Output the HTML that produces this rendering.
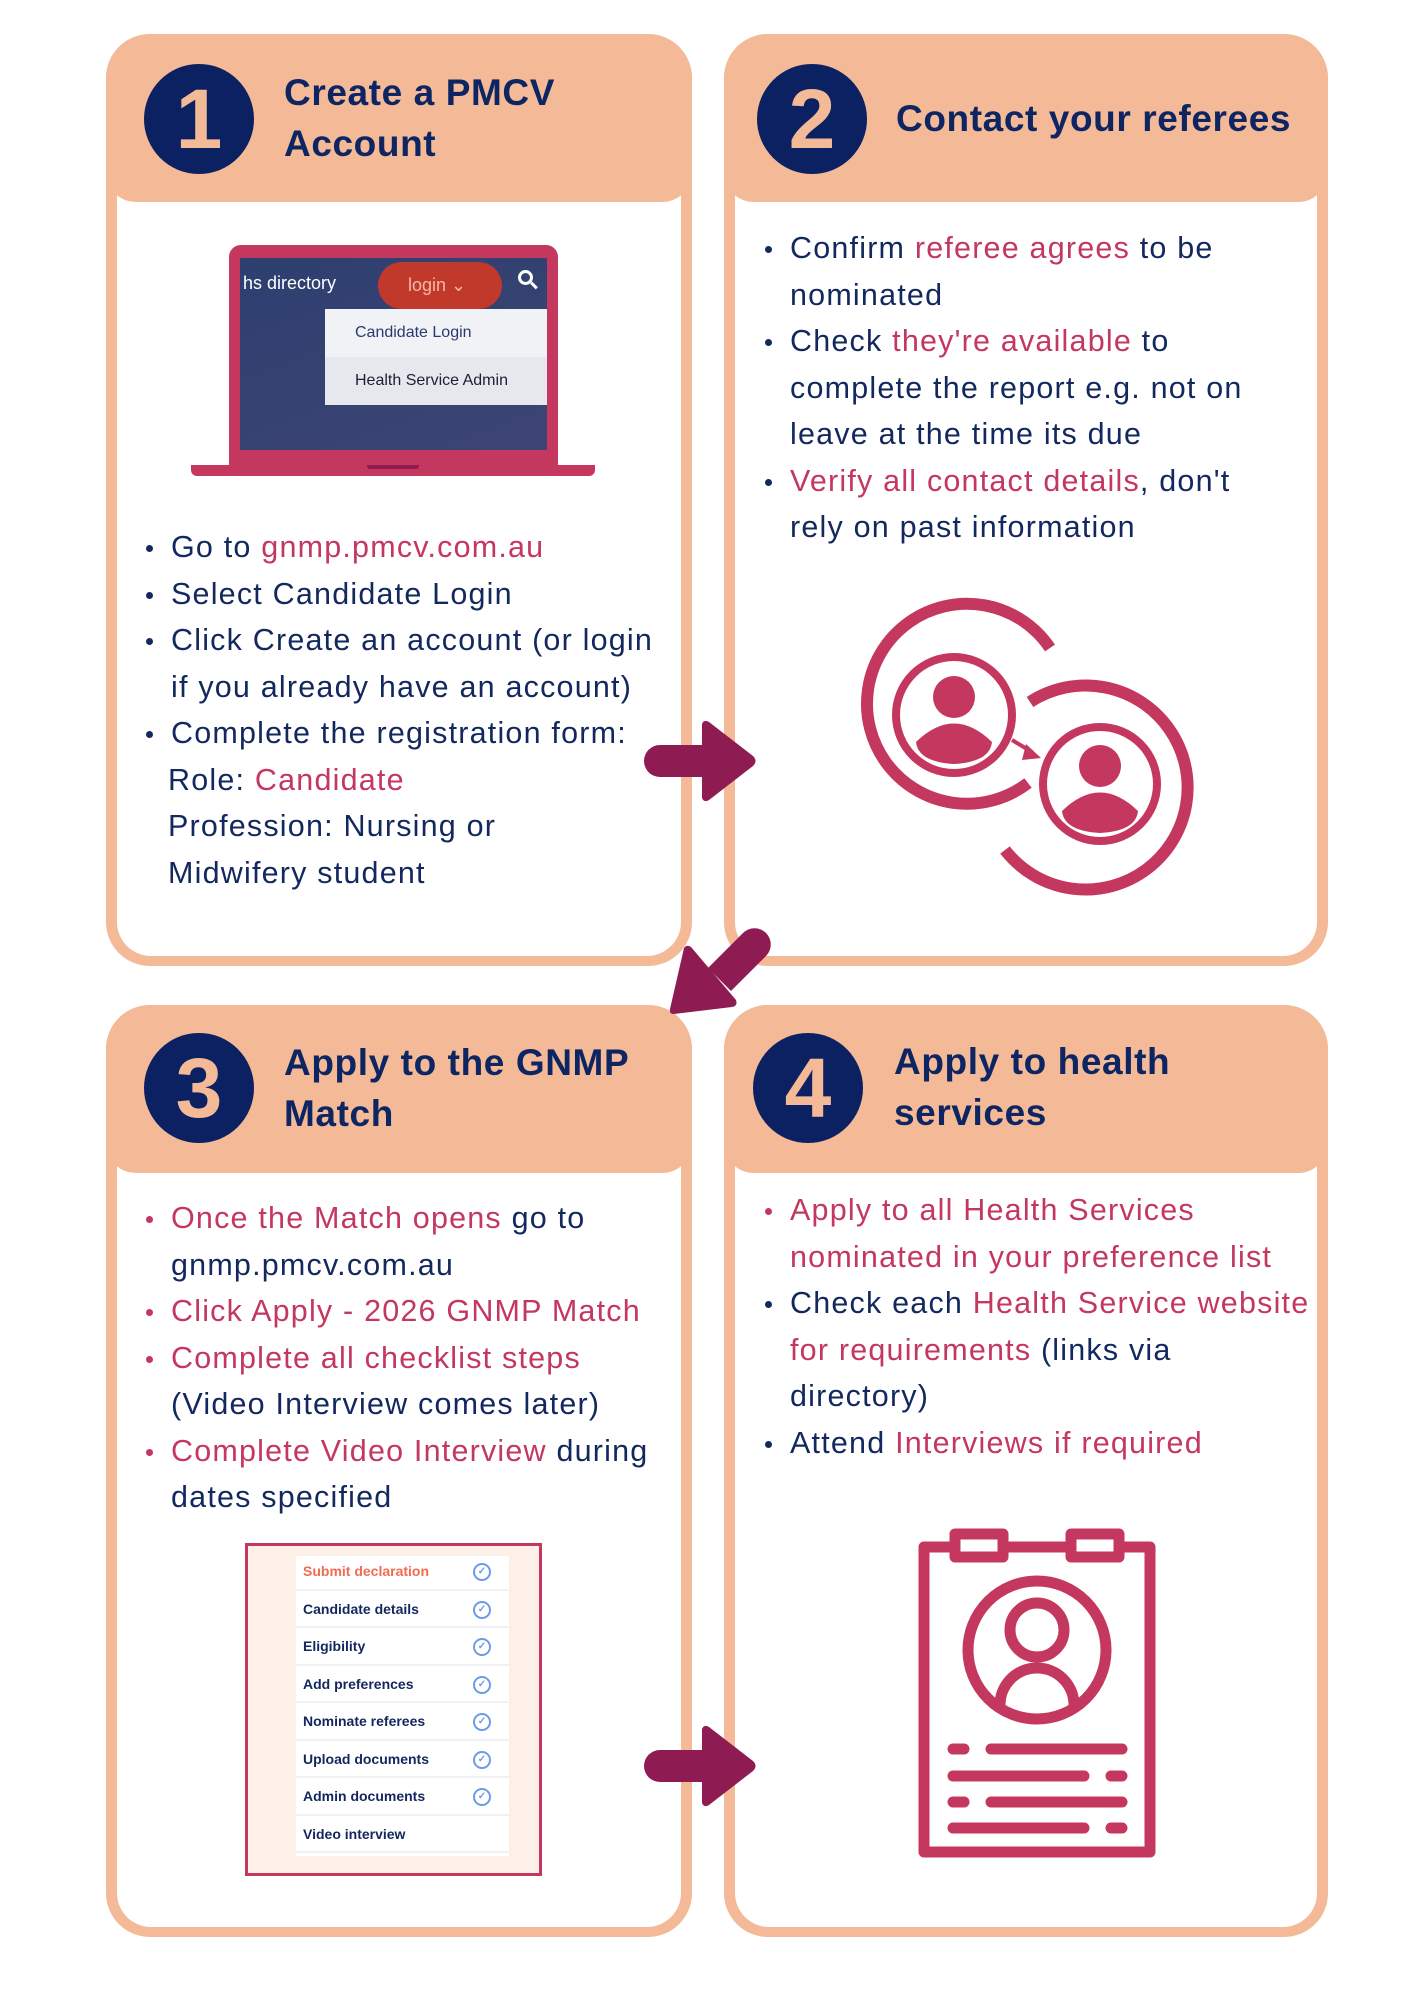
<!DOCTYPE html>
<html><head><meta charset="utf-8"><style>
*{margin:0;padding:0;box-sizing:border-box}
body{width:1414px;height:2000px;background:#fff;position:relative;overflow:hidden;font-family:"Liberation Sans",sans-serif;color:#12285e}
.p{position:absolute;background:#f4b996;border-radius:44px}
.w{position:absolute;left:11px;right:11px;bottom:10px;top:120px;background:#fff;border-radius:0 0 34px 34px}
.hd{position:absolute;left:0;right:0;top:0;height:168px;background:#f4b996;border-radius:44px 44px 30px 30px}
.c{position:absolute;width:110px;height:110px;border-radius:50%;background:#0b2161;color:#f4b996;font:bold 84px/110px "Liberation Sans",sans-serif;text-align:center}
.t{position:absolute;font:bold 37px/51px "Liberation Sans",sans-serif;letter-spacing:0.6px;color:#0d2563;white-space:nowrap}
.tx{position:absolute;font-size:30.5px;letter-spacing:1.2px;line-height:46.5px;white-space:nowrap;color:#12285e}
.tx div{position:relative}
.b:before{content:"";position:absolute;left:-25px;top:21px;width:7px;height:7px;border-radius:50%;background:#12285e}
.rb:before{background:#c4375f}
.r{color:#c4375f}
.ck{position:absolute;left:296px;width:213px;height:37.5px;border-bottom:2px solid #f1f1f4;font:bold 14px/37px "Liberation Sans",sans-serif;color:#13275e;padding-left:7px}
.ck i{position:absolute;right:18px;top:10px;width:18px;height:18px;border:2px solid #6c9be8;border-radius:50%;font-style:normal;font-size:10px;line-height:14px;text-align:center;color:#6c9be8}
</style></head><body>

<!-- Panel 1 -->
<div class="p" style="left:106px;top:34px;width:586px;height:932px"><div class="w"></div><div class="hd"></div></div>
<div class="c" style="left:144px;top:64px">1</div>
<div class="t" style="left:284px;top:67px">Create a PMCV<br>Account</div>

<!-- laptop -->
<div style="position:absolute;left:229px;top:245px;width:329px;height:222px;background:#c4375f;border-radius:12px 12px 0 0"></div>
<div style="position:absolute;left:240px;top:258px;width:307px;height:192px;background:linear-gradient(160deg,#2d3f70,#3d4573)"></div>
<div style="position:absolute;left:191px;top:465px;width:404px;height:11px;background:#c4375f;border-radius:0 0 6px 6px"></div>
<div style="position:absolute;left:367px;top:465px;width:52px;height:4px;background:#8e1c52;border-radius:0 0 3px 3px"></div>
<div style="position:absolute;left:243px;top:273px;font-size:18px;color:#fff">hs directory</div>
<div style="position:absolute;left:378px;top:262px;width:124px;height:47px;border-radius:24px;background:#c0392b;color:#f5b8a8;font-size:18px;line-height:47px;padding-left:30px">login &#8964;</div>
<div style="position:absolute;left:518px;top:270px;width:15px;height:15px;border:3px solid #fff;border-radius:50%"></div>
<div style="position:absolute;left:530px;top:284px;width:8px;height:3px;background:#fff;transform:rotate(45deg)"></div>
<div style="position:absolute;left:325px;top:309px;width:222px;height:48px;background:#f1f2f6;font-size:16px;line-height:48px;padding-left:30px;color:#2a3a6e">Candidate Login</div>
<div style="position:absolute;left:325px;top:357px;width:222px;height:48px;background:#e7e8ee;font-size:16px;line-height:48px;padding-left:30px;color:#1c1f33">Health Service Admin</div>

<div class="tx" style="left:171px;top:524px">
<div class="b">Go to <span class="r">gnmp.pmcv.com.au</span></div>
<div class="b">Select Candidate Login</div>
<div class="b">Click Create an account (or login</div>
<div>if you already have an account)</div>
<div class="b">Complete the registration form:</div>
<div style="left:-3px">Role: <span class="r">Candidate</span></div>
<div style="left:-3px">Profession: Nursing or</div>
<div style="left:-3px">Midwifery student</div>
</div>

<!-- Panel 2 -->
<div class="p" style="left:724px;top:34px;width:604px;height:932px"><div class="w"></div><div class="hd"></div></div>
<div class="c" style="left:757px;top:64px">2</div>
<div class="t" style="left:896px;top:93px">Contact your referees</div>
<div class="tx" style="left:790px;top:225px">
<div class="b">Confirm <span class="r">referee agrees</span> to be</div>
<div>nominated</div>
<div class="b">Check <span class="r">they're available</span> to</div>
<div>complete the report e.g. not on</div>
<div>leave at the time its due</div>
<div class="b"><span class="r">Verify all contact details</span>, don't</div>
<div>rely on past information</div>
</div>
<svg style="position:absolute;left:0;top:0" width="1414" height="2000">
<g fill="none" stroke="#c4375f">
<path d="M1050 648 A100 100 0 1 0 1028 783" stroke-width="12"/>
<circle cx="954" cy="715" r="58" stroke-width="8"/>
<path d="M1030 702 A102 102 0 1 1 1005 850" stroke-width="12"/>
<circle cx="1100" cy="784" r="57" stroke-width="8"/>
<line x1="1012" y1="740" x2="1032" y2="752" stroke-width="4"/>
</g>
<g fill="#c4375f">
<circle cx="954" cy="697" r="21"/><path d="M916 742 Q954 705 992 742 Q990 762 954 764 Q918 762 916 742Z"/>
<circle cx="1100" cy="766" r="21"/><path d="M1062 811 Q1100 774 1138 811 Q1136 831 1100 833 Q1064 831 1062 811Z"/>
<path d="M1026 744 L1041 758 L1022 760Z"/>
</g>
</svg>

<!-- Panel 3 -->
<div class="p" style="left:106px;top:1005px;width:586px;height:932px"><div class="w"></div><div class="hd"></div></div>
<div class="c" style="left:144px;top:1033px">3</div>
<div class="t" style="left:284px;top:1037px">Apply to the GNMP<br>Match</div>
<div class="tx" style="left:171px;top:1195px">
<div class="b rb"><span class="r">Once the Match opens</span> go to</div>
<div>gnmp.pmcv.com.au</div>
<div class="b rb"><span class="r">Click Apply - 2026 GNMP Match</span></div>
<div class="b rb"><span class="r">Complete all checklist steps</span></div>
<div>(Video Interview comes later)</div>
<div class="b rb"><span class="r">Complete Video Interview</span> during</div>
<div>dates specified</div>
</div>
<div style="position:absolute;left:245px;top:1543px;width:297px;height:333px;border:3px solid #c4375f;background:#fdf0e8"></div>
<div style="position:absolute;left:296px;top:1556px;width:213px;height:300px;background:#fff"></div>
<div class="ck" style="top:1553px;color:#f26b50">Submit declaration<i>✓</i></div>
<div class="ck" style="top:1590.5px">Candidate details<i>✓</i></div>
<div class="ck" style="top:1628px">Eligibility<i>✓</i></div>
<div class="ck" style="top:1665.5px">Add preferences<i>✓</i></div>
<div class="ck" style="top:1703px">Nominate referees<i>✓</i></div>
<div class="ck" style="top:1740.5px">Upload documents<i>✓</i></div>
<div class="ck" style="top:1778px">Admin documents<i>✓</i></div>
<div class="ck" style="top:1815.5px">Video interview</div>

<!-- Panel 4 -->
<div class="p" style="left:724px;top:1005px;width:604px;height:932px"><div class="w"></div><div class="hd"></div></div>
<div class="c" style="left:753px;top:1033px">4</div>
<div class="t" style="left:894px;top:1036px">Apply to health<br>services</div>
<div class="tx" style="left:790px;top:1187px">
<div class="b rb"><span class="r">Apply to all Health Services</span></div>
<div class="r">nominated in your preference list</div>
<div class="b">Check each <span class="r">Health Service website</span></div>
<div><span class="r">for requirements</span> (links via</div>
<div>directory)</div>
<div class="b">Attend <span class="r">Interviews if required</span></div>
</div>
<svg style="position:absolute;left:0;top:0" width="1414" height="2000">
<g fill="none" stroke="#c4375f" stroke-width="11" stroke-linecap="round" stroke-linejoin="round">
<rect x="924" y="1547" width="226" height="305"/>
<rect x="955" y="1534" width="48" height="23" fill="#fff"/>
<rect x="1071" y="1534" width="48" height="23" fill="#fff"/>
<circle cx="1037" cy="1650" r="69"/>
<circle cx="1037" cy="1630" r="27"/>
<path d="M1000 1705 A37 37 0 0 1 1074 1705"/>
<line x1="953" y1="1749" x2="964" y2="1749"/><line x1="991" y1="1749" x2="1122" y2="1749"/>
<line x1="953" y1="1776" x2="1084" y2="1776"/><line x1="1111" y1="1776" x2="1122" y2="1776"/>
<line x1="953" y1="1802" x2="964" y2="1802"/><line x1="991" y1="1802" x2="1122" y2="1802"/>
<line x1="953" y1="1828" x2="1084" y2="1828"/><line x1="1111" y1="1828" x2="1122" y2="1828"/>
</g>
<g fill="#8e1c52">
<path d="M660 745 H702 V777 H660 A16 16 0 0 1 660 745Z"/>
<path d="M702 724 Q704 719 709 722 L753 756 Q758 761 753 766 L709 800 Q704 803 702 798Z"/>
<path d="M660 1750 H702 V1782 H660 A16 16 0 0 1 660 1750Z"/>
<path d="M702 1729 Q704 1724 709 1727 L753 1761 Q758 1766 753 1771 L709 1805 Q704 1808 702 1803Z"/>
<path d="M743 933 A16 16 0 0 1 766 956 L731 991 L708 968Z"/>
<path d="M684 948 Q687 944 691 947 L736 1000 Q738 1006 732 1007 L674 1014 Q669 1014 670 1009Z"/>
</g>
</svg>
</body></html>
